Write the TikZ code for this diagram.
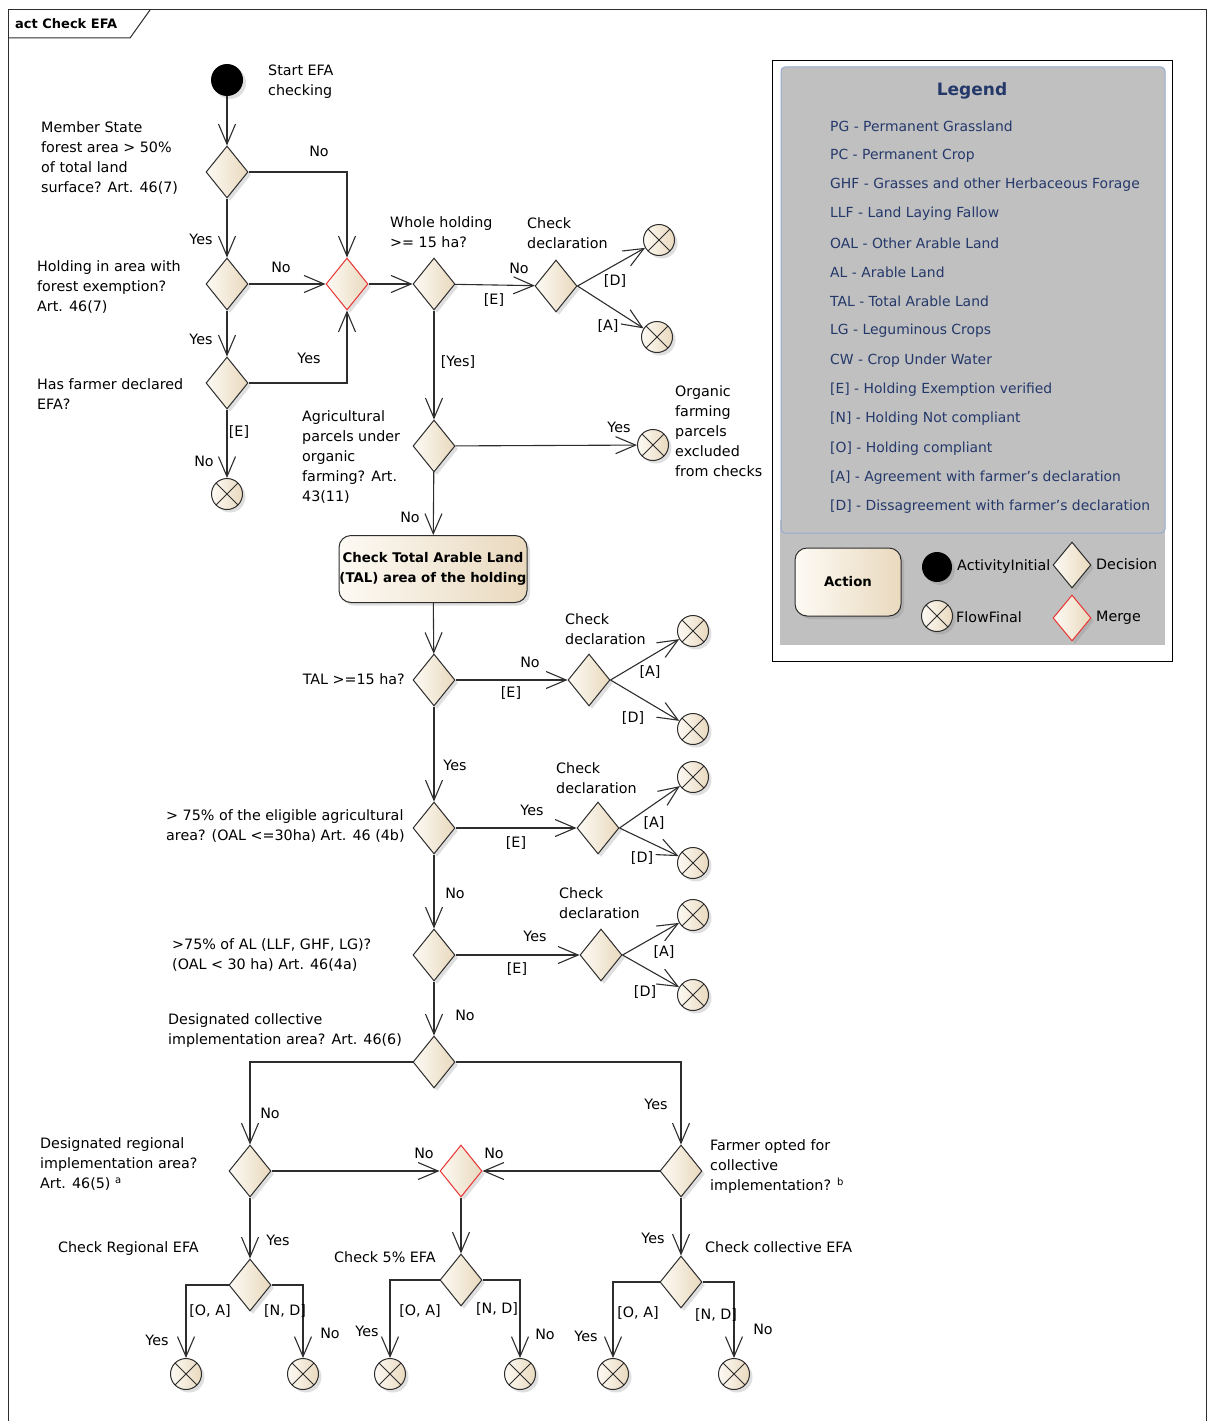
\documentclass[tikz,border=0pt]{standalone}
\usepackage{fontspec}
\setmainfont{DejaVu Sans}
\usetikzlibrary{shapes.geometric,arrows.meta,shadows,positioning}

\definecolor{linegray}{RGB}{45,45,45}
\definecolor{fillhi}{RGB}{253,250,244}
\definecolor{filllo}{RGB}{233,217,190}
\definecolor{mergered}{RGB}{232,52,52}
\definecolor{legendgray}{RGB}{192,192,192}
\definecolor{legendblue}{RGB}{36,56,106}
\definecolor{noteborder}{RGB}{150,170,210}

\tikzset{
  txt/.style={font=\fontsize{14.3}{20}\selectfont, inner sep=0pt, align=left, text=black},
  lab/.style={txt},
  shade/.style={left color=fillhi, right color=filllo},
  shadowed/.style={drop shadow={opacity=0.25, shadow xshift=3pt, shadow yshift=-3pt}},
  decision/.style={diamond, draw=linegray, line width=1pt, shade, shadowed,
    minimum width=42pt, minimum height=52pt, inner sep=0pt},
  merge/.style={decision, draw=mergered},
  flowfinal/.style={circle, draw=linegray, line width=1pt, shade, shadowed,
    minimum size=31pt, inner sep=0pt,
    path picture={\draw[linegray, line width=1pt]
      (path picture bounding box.north west) -- (path picture bounding box.south east)
      (path picture bounding box.north east) -- (path picture bounding box.south west);}},
  initial/.style={circle, fill=black, minimum size=32pt, inner sep=0pt, shadowed},
  action/.style={rectangle, rounded corners=12pt, draw=linegray, line width=1pt, shade, shadowed,
    font=\fontsize{13.3}{20}\selectfont\bfseries, align=center, inner sep=0pt},
  flow/.style={draw=linegray, line width=1.1pt, -{Straight Barb[length=20pt,width=17pt]}},
  link/.style={draw=linegray, line width=1.1pt}
}

\begin{document}
\begin{tikzpicture}[x=1pt,y=-1pt]
  \useasboundingbox (0,0) rectangle (1208,1421);
  % frame
  \draw[linegray, line width=1pt] (8,1425) -- (8,10) -- (1206,10) -- (1206,1425);
  \draw[linegray, line width=1pt] (8,38) -- (130,38) -- (150,10);
  \node[txt, font=\fontsize{13}{16}\selectfont\bfseries, anchor=west] (title) at (15,24) {act Check EFA};

  % forest checks
  \node[initial] (start) at (227,80) {};
  \node[txt, anchor=west] (tstart) at (268,82) {Start EFA\\checking};
  \node[decision] (d1) at (227,172) {};
  \node[txt, anchor=west] (td1) at (41,158) {Member State\\forest area > 50\%\\of total land\\surface? Art. 46(7)};
  \node[decision] (d2) at (227,284) {};
  \node[txt, anchor=west] (td2) at (37,287) {Holding in area with\\forest exemption?\\Art. 46(7)};
  \node[decision] (d3) at (227,383) {};
  \node[txt, anchor=west] (td3) at (37,394) {Has farmer declared\\EFA?};
  \node[flowfinal] (f1) at (227,494) {};
  \node[merge] (m1) at (347,284) {};

  \draw[flow] (start) -- (d1);
  \draw[flow] (d1.east) -| (m1.north);
  \draw[flow] (d1) -- (d2);
  \draw[flow] (d2) -- (m1);
  \draw[flow] (d2) -- (d3);
  \draw[flow] (d3.east) -| (m1.south);
  \draw[flow] (d3) -- (f1);
  \node[lab] (l1) at (319,151) {No};
  \node[lab] (l2) at (201,239) {Yes};
  \node[lab] (l3) at (281,267) {No};
  \node[lab] (l4) at (201,339) {Yes};
  \node[lab] (l5) at (309,358) {Yes};
  \node[lab] (l6) at (239,432) {[E]};
  \node[lab] (l7) at (204,461) {No};

  % whole holding
  \node[decision] (d4) at (434,284) {};
  \node[txt, anchor=west] (td4) at (390,232) {Whole holding\\>= 15 ha?};
  \node[decision] (d5) at (556,286) {};
  \node[txt, anchor=west] (td5) at (527,233) {Check\\declaration};
  \node[flowfinal] (f2) at (659,240) {};
  \node[flowfinal] (f3) at (657,337) {};
  \draw[flow] (m1) -- (d4);
  \draw[flow] (d4) -- (d5);
  \draw[flow] (d5.east) -- (f2);
  \draw[flow] (d5.east) -- (f3);
  \node[lab] (l8) at (519,268) {No};
  \node[lab] (l9) at (494,300) {[E]};
  \node[lab] (l10) at (615,281) {[D]};
  \node[lab] (l11) at (608,326) {[A]};

  % organic farming
  \node[decision] (d6) at (434,446) {};
  \node[txt, anchor=west] (td6) at (302,457) {Agricultural\\parcels under\\organic\\farming? Art.\\43(11)};
  \node[flowfinal] (f4) at (653,445) {};
  \node[txt, anchor=west] (tf4) at (675,431) {Organic\\farming\\parcels\\excluded\\from checks};
  \draw[flow] (d4) -- (d6);
  \draw[flow] (d6) -- (f4);
  \node[lab] (l12) at (458,362) {[Yes]};
  \node[lab] (l13) at (619,427) {Yes};

  % total arable land
  \node[action, minimum width=188pt, minimum height=67pt] (a1) at (433,569) {Check Total Arable Land\\(TAL) area of the holding};
  \draw[flow] (d6) -- (a1);
  \node[lab] (l14) at (410,517) {No};

  \node[decision] (d7) at (434,680) {};
  \node[txt, anchor=east] (td7) at (405,679) {TAL >=15 ha?};
  \node[decision] (d8) at (589,680) {};
  \node[txt, anchor=west] (td8) at (565,629) {Check\\declaration};
  \node[flowfinal] (f5) at (693,631) {};
  \node[flowfinal] (f6) at (693,729) {};
  \draw[flow] (a1) -- (d7);
  \draw[flow] (d7) -- (d8);
  \draw[flow] (d8.east) -- (f5);
  \draw[flow] (d8.east) -- (f6);
  \node[lab] (l15) at (530,662) {No};
  \node[lab] (l16) at (511,693) {[E]};
  \node[lab] (l17) at (650,672) {[A]};
  \node[lab] (l18) at (633,718) {[D]};

  % 75% eligible agricultural area
  \node[decision] (d9) at (434,828) {};
  \node[txt, anchor=west] (td9) at (166,826) {> 75\% of the eligible agricultural\\area? (OAL <=30ha) Art. 46 (4b)};
  \node[decision] (d10) at (598,828) {};
  \node[txt, anchor=west] (td10) at (556,778) {Check\\declaration};
  \node[flowfinal] (f7) at (693,777) {};
  \node[flowfinal] (f8) at (693,863) {};
  \draw[flow] (d7) -- (d9);
  \draw[flow] (d9) -- (d10);
  \draw[flow] (d10.east) -- (f7);
  \draw[flow] (d10.east) -- (f8);
  \node[lab] (l19) at (455,765) {Yes};
  \node[lab] (l20) at (532,810) {Yes};
  \node[lab] (l21) at (516,843) {[E]};
  \node[lab] (l22) at (654,823) {[A]};
  \node[lab] (l23) at (642,858) {[D]};

  % 75% arable land
  \node[decision] (d11) at (434,955) {};
  \node[txt, anchor=west] (td11) at (172,955) {>75\% of AL (LLF, GHF, LG)?\\(OAL < 30 ha) Art. 46(4a)};
  \node[decision] (d12) at (601,955) {};
  \node[txt, anchor=west] (td12) at (559,903) {Check\\declaration};
  \node[flowfinal] (f9) at (693,915) {};
  \node[flowfinal] (f10) at (693,995) {};
  \draw[flow] (d9) -- (d11);
  \draw[flow] (d11) -- (d12);
  \draw[flow] (d12.east) -- (f9);
  \draw[flow] (d12.east) -- (f10);
  \node[lab] (l24) at (455,893) {No};
  \node[lab] (l25) at (535,936) {Yes};
  \node[lab] (l26) at (517,969) {[E]};
  \node[lab] (l27) at (664,952) {[A]};
  \node[lab] (l28) at (645,992) {[D]};

  % implementation
  \node[decision] (d13) at (434,1062) {};
  \node[txt, anchor=west] (td13) at (168,1031) {Designated collective\\implementation area? Art. 46(6)};
  \node[decision] (d14) at (250,1171) {};
  \node[txt, anchor=west] (td14) at (40,1164) {Designated regional\\implementation area?\\Art. 46(5) \textsuperscript{a}};
  \node[decision] (d15) at (681,1171) {};
  \node[txt, anchor=west] (td15) at (710,1167) {Farmer opted for\\collective\\implementation? \textsuperscript{b}};
  \node[merge] (m2) at (461,1171) {};
  \draw[flow] (d11) -- (d13);
  \draw[flow] (d13.west) -| (d14.north);
  \draw[flow] (d13.east) -| (d15.north);
  \draw[flow] (d14) -- (m2);
  \draw[flow] (d15) -- (m2);
  \node[lab] (l29) at (465,1015) {No};
  \node[lab] (l30) at (270,1113) {No};
  \node[lab] (l31) at (656,1104) {Yes};
  \node[lab] (l32) at (424,1153) {No};
  \node[lab] (l33) at (494,1153) {No};

  % EFA checks
  \node[decision] (d16) at (250,1285) {};
  \node[txt, anchor=west] (td16) at (58,1249) {Check Regional EFA};
  \node[decision] (d17) at (461,1280) {};
  \node[txt, anchor=west] (td17) at (334,1257) {Check 5\% EFA};
  \node[decision] (d18) at (681,1282) {};
  \node[txt, anchor=west] (td18) at (705,1247) {Check collective EFA};
  \draw[flow] (d14) -- (d16);
  \draw[flow] (m2) -- (d17);
  \draw[flow] (d15) -- (d18);
  \node[lab] (l34) at (278,1240) {Yes};
  \node[lab] (l35) at (653,1238) {Yes};

  \node[flowfinal] (f11) at (186,1374) {};
  \node[flowfinal] (f12) at (303,1374) {};
  \node[flowfinal] (f13) at (390,1374) {};
  \node[flowfinal] (f14) at (520,1374) {};
  \node[flowfinal] (f15) at (613,1374) {};
  \node[flowfinal] (f16) at (734,1374) {};
  \draw[flow] (d16.west) -| (f11.north);
  \draw[flow] (d16.east) -| (f12.north);
  \draw[flow] (d17.west) -| (f13.north);
  \draw[flow] (d17.east) -| (f14.north);
  \draw[flow] (d18.west) -| (f15.north);
  \draw[flow] (d18.east) -| (f16.north);
  \node[lab] (l36) at (210,1311) {[O, A]};
  \node[lab] (l37) at (285,1311) {[N, D]};
  \node[lab] (l38) at (157,1340) {Yes};
  \node[lab] (l39) at (330,1333) {No};
  \node[lab] (l40) at (420,1311) {[O, A]};
  \node[lab] (l41) at (497,1309) {[N, D]};
  \node[lab] (l42) at (367,1331) {Yes};
  \node[lab] (l43) at (545,1334) {No};
  \node[lab] (l44) at (638,1313) {[O, A]};
  \node[lab] (l45) at (716,1315) {[N, D]};
  \node[lab] (l46) at (586,1336) {Yes};
  \node[lab] (l47) at (763,1329) {No};

  % legend
  \draw[black, line width=1pt, fill=white] (772,61) rectangle (1172,661);
  \fill[legendgray] (780,520) rectangle (1165,645);
  \draw[noteborder, line width=1pt, fill=legendgray, rounded corners=4pt] (781,67) rectangle (1165,533);
  \node[txt, font=\fontsize{17}{20}\selectfont\bfseries, text=legendblue] (legtitle) at (972,91) {Legend};
  \foreach \txt [count=\i from 0] in {PG - Permanent Grassland, PC - Permanent Crop,
      GHF - Grasses and other Herbaceous Forage, LLF - Land Laying Fallow,
      OAL - Other Arable Land, AL - Arable Land, TAL - Total Arable Land,
      LG - Leguminous Crops, CW - Crop Under Water, [E] - Holding Exemption verified,
      [N] - Holding Not compliant, [O] - Holding compliant,
      [A] - Agreement with farmer's declaration, [D] - Dissagreement with farmer's declaration}
    \node[txt, font=\fontsize{13.9}{20}\selectfont, text=legendblue, anchor=west] (leg\i) at (830,{126+29.3*\i}) {\txt};

  \node[action, font=\fontsize{13.3}{20}\selectfont\bfseries, minimum width=106pt, minimum height=68pt] (kaction) at (848,582) {Action};
  \node[initial, minimum size=30pt] (kinit) at (937,567) {};
  \node[txt, anchor=west] (tkinit) at (957,567) {ActivityInitial};
  \node[decision, minimum width=38pt, minimum height=46pt] (kdec) at (1072,565) {};
  \node[txt, anchor=west] (tkdec) at (1096,564) {Decision};
  \node[flowfinal] (kfinal) at (937,616) {};
  \node[txt, anchor=west] (tkfinal) at (956,617) {FlowFinal};
  \node[merge, minimum width=38pt, minimum height=46pt] (kmerge) at (1072,618) {};
  \node[txt, anchor=west] (tkmerge) at (1096,618) {Merge};
\end{tikzpicture}
\end{document}
